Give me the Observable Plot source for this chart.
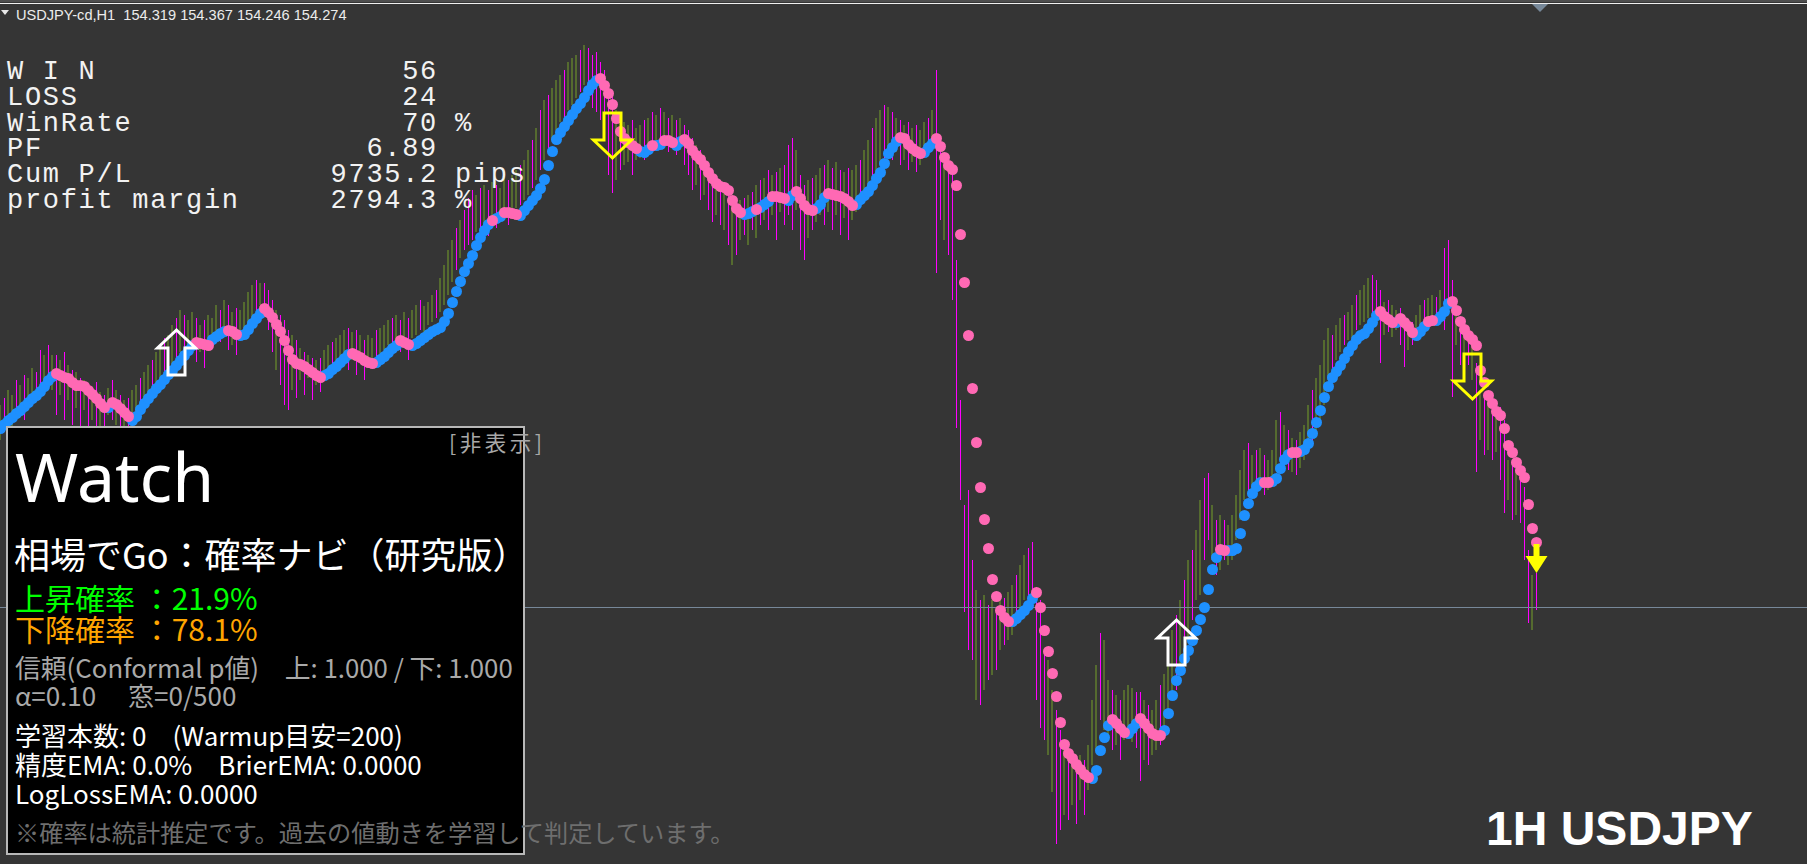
<!DOCTYPE html>
<html><head><meta charset="utf-8">
<script src="https://cdn.jsdelivr.net/npm/d3@7"></script>
<script src="https://cdn.jsdelivr.net/npm/@observablehq/plot@0.6"></script>
<style>
html,body{margin:0;padding:0;background:#353535;overflow:hidden}
#chart{position:absolute;left:0;top:0;width:1807px;height:864px}
</style></head>
<body><div id="chart"></div>
<script>
// ---------- data ----------
const symbolHeader = "USDJPY-cd,H1  154.319 154.367 154.246 154.274";
const bidPrice = 154.92;

// indicator line (one value per bar)
const dotPrice = [
156.71,156.75,156.79,156.82,156.86,156.89,156.93,156.97,157.01,157.04,
157.08,157.13,157.19,157.23,157.26,157.24,157.22,157.21,157.17,157.14,
157.14,157.13,157.09,157.05,157.01,156.96,156.92,156.92,156.97,156.95,
156.91,156.87,156.83,156.79,156.83,156.90,156.96,157.01,157.06,157.11,
157.15,157.20,157.25,157.29,157.34,157.39,157.44,157.49,157.54,157.57,
157.56,157.55,157.54,157.60,157.63,157.66,157.68,157.69,157.68,157.65,
157.64,157.65,157.70,157.76,157.81,157.86,157.91,157.87,157.82,157.75,
157.68,157.59,157.49,157.40,157.36,157.35,157.33,157.30,157.27,157.24,
157.22,157.24,157.26,157.30,157.33,157.37,157.41,157.45,157.46,157.44,
157.42,157.39,157.37,157.36,157.37,157.40,157.43,157.47,157.51,157.54,
157.59,157.57,157.55,157.54,157.56,157.59,157.62,157.65,157.68,157.70,
157.72,157.78,157.86,157.97,158.08,158.18,158.28,158.36,158.44,158.54,
158.62,158.69,158.75,158.79,158.81,158.83,158.87,158.87,158.86,158.85,
158.84,158.89,158.94,158.99,159.04,159.11,159.20,159.34,159.48,159.60,
159.67,159.73,159.79,159.85,159.91,159.96,160.02,160.09,160.15,160.19,
160.21,160.14,160.06,159.95,159.81,159.68,159.61,159.57,159.54,159.51,
159.48,159.47,159.50,159.54,159.54,159.55,159.59,159.59,159.57,159.54,
159.58,159.60,159.56,159.49,159.44,159.40,159.34,159.27,159.21,159.16,
159.13,159.12,159.09,158.99,158.91,158.87,158.85,158.86,158.88,158.90,
158.92,158.95,158.98,159.03,159.03,159.02,159.01,158.99,159.04,159.08,
159.01,158.94,158.90,158.89,158.91,158.95,159.02,159.06,159.05,159.04,
159.03,159.01,158.98,158.94,158.95,159.00,159.04,159.08,159.14,159.21,
159.27,159.36,159.46,159.52,159.58,159.62,159.61,159.55,159.51,159.48,
159.46,159.47,159.52,159.56,159.61,159.53,159.42,159.34,159.30,159.14,
158.65,158.17,157.64,157.11,156.57,156.12,155.80,155.51,155.20,155.03,
154.89,154.82,154.78,154.78,154.81,154.85,154.89,154.94,155.01,155.07,
154.92,154.69,154.48,154.26,154.03,153.77,153.55,153.46,153.41,153.35,
153.30,153.25,153.22,153.21,153.29,153.49,153.62,153.74,153.80,153.76,
153.71,153.67,153.66,153.71,153.76,153.81,153.76,153.71,153.66,153.64,
153.64,153.69,153.86,154.04,154.19,154.29,154.41,154.49,154.59,154.69,
154.80,154.92,155.10,155.30,155.42,155.50,155.49,155.49,155.49,155.51,
155.66,155.84,155.96,156.06,156.13,156.17,156.17,156.17,156.18,156.21,
156.31,156.40,156.45,156.47,156.47,156.48,156.50,156.56,156.66,156.77,
156.89,157.02,157.13,157.22,157.28,157.34,157.41,157.48,157.54,157.60,
157.64,157.66,157.71,157.77,157.84,157.88,157.83,157.80,157.77,157.77,
157.81,157.77,157.73,157.67,157.64,157.68,157.73,157.78,157.79,157.79,
157.83,157.88,157.96,157.98,157.89,157.78,157.70,157.64,157.60,157.54,
157.29,157.17,157.04,156.96,156.88,156.84,156.71,156.54,156.47,156.37,
156.29,156.22,155.95,155.71,155.57
];
// run lengths of the indicator state, alternating up / down, starting with up
const trendRuns = [14,13,1,5,16,4,4,3,6,15,7,6,6,3,20,1,2,4,20,10,3,1,2,3,2,15,3,1,3,4,2,5,3,7,11,6,3,19,6,14,5,4,3,6,14,2,9,2,5,2,20,4,1,4,3,2,4,22];

const barHigh = [
156.94,157.01,157.09,157.04,157.19,157.14,157.24,157.21,157.31,157.27,
157.49,157.44,157.54,157.44,157.44,157.39,157.47,157.34,157.29,157.27,
157.21,157.19,157.14,157.11,157.17,157.07,157.04,157.11,157.19,157.09,
157.04,156.99,157.01,157.09,157.14,157.21,157.27,157.34,157.39,157.47,
157.51,157.61,157.64,157.74,157.81,157.89,157.84,157.79,157.87,157.81,
157.74,157.79,157.84,157.81,157.94,157.89,157.99,157.94,157.87,157.91,
157.89,157.97,158.07,158.14,158.19,158.16,158.16,158.09,157.99,157.89,
157.84,157.79,157.69,157.64,157.59,157.51,157.47,157.44,157.41,157.39,
157.41,157.49,157.54,157.57,157.61,157.64,157.69,157.71,157.67,157.69,
157.64,157.59,157.64,157.61,157.69,157.71,157.74,157.79,157.81,157.84,
157.79,157.87,157.81,157.89,157.94,157.99,157.93,157.97,158.04,158.09,
158.21,158.34,158.49,158.59,158.71,158.79,158.89,159.01,159.09,159.04,
159.11,159.14,159.09,159.17,159.14,159.11,159.21,159.19,159.24,159.29,
159.34,159.39,159.49,159.59,159.71,159.89,159.99,160.04,160.11,160.19,
160.24,160.29,160.37,160.41,160.44,160.49,160.54,160.51,160.44,160.47,
160.37,160.29,160.14,160.04,159.89,159.81,159.77,159.74,159.79,159.71,
159.74,159.79,159.81,159.87,159.84,159.91,159.87,159.81,159.84,159.79,
159.81,159.74,159.69,159.61,159.54,159.49,159.44,159.34,159.27,159.24,
159.19,159.17,159.09,158.99,158.94,158.99,159.01,159.04,159.07,159.14,
159.19,159.21,159.29,159.24,159.27,159.31,159.34,159.54,159.61,159.49,
159.24,159.14,159.19,159.21,159.24,159.31,159.34,159.39,159.31,159.37,
159.29,159.27,159.31,159.29,159.34,159.39,159.49,159.59,159.71,159.81,
159.89,159.94,159.92,159.87,159.81,159.79,159.74,159.77,159.71,159.74,
159.69,159.77,159.81,159.89,160.29,159.49,159.44,159.39,159.31,158.39,
156.99,155.94,156.09,155.39,155.09,154.99,155.04,154.94,154.99,154.89,
155.04,155.01,155.07,155.14,155.24,155.34,155.44,155.51,155.57,155.12,
154.99,154.49,154.39,154.09,153.89,153.69,153.54,153.44,153.39,153.34,
153.44,153.39,153.54,153.99,154.34,154.66,154.59,154.19,154.09,154.04,
153.99,154.09,154.14,154.11,154.07,154.07,153.99,153.94,153.89,153.99,
154.14,154.25,154.44,154.69,154.84,154.99,155.19,155.39,155.49,155.69,
155.99,156.21,156.26,155.94,155.79,155.84,155.79,155.74,155.84,156.04,
156.29,156.49,156.56,156.44,156.49,156.51,156.44,156.39,156.49,156.79,
156.87,156.74,156.69,156.61,156.59,156.67,156.74,156.94,157.09,157.21,
157.34,157.59,157.71,157.64,157.74,157.81,157.84,157.87,157.94,158.04,
158.09,158.14,158.21,158.24,158.19,158.09,157.97,157.99,157.94,157.89,
157.91,157.84,157.79,157.77,157.84,157.94,157.99,158.01,158.04,158.02,
158.09,158.51,158.59,158.19,157.99,157.79,157.74,157.69,157.59,157.36,
157.09,157.04,156.99,156.94,156.89,156.92,156.79,156.39,156.34,156.29,
156.19,156.12,155.49,155.24,155.26
];
const barLow = [
156.59,156.67,156.74,156.71,156.81,156.87,156.79,156.94,156.97,157.01,
157.04,157.14,157.19,157.09,156.84,157.04,156.79,156.99,156.74,156.91,
156.69,156.89,156.69,156.79,156.71,156.69,156.64,156.84,156.79,156.74,
156.64,156.67,156.59,156.69,156.79,156.84,156.94,156.99,157.04,157.11,
157.17,157.21,157.27,157.34,157.39,157.47,157.51,157.44,157.54,157.37,
157.47,157.31,157.54,157.59,157.61,157.57,157.64,157.49,157.54,157.44,
157.59,157.67,157.71,157.79,157.87,157.94,157.89,157.69,157.47,157.29,
157.14,156.94,156.89,157.09,157.01,157.19,157.04,157.21,156.99,157.14,
157.07,157.19,157.24,157.27,157.31,157.37,157.39,157.29,157.39,157.24,
157.37,157.19,157.31,157.41,157.37,157.44,157.49,157.54,157.51,157.59,
157.47,157.57,157.39,157.61,157.64,157.69,157.64,157.74,157.77,157.81,
157.87,157.94,158.04,158.17,158.29,158.41,158.49,158.54,158.59,158.67,
158.71,158.74,158.63,158.77,158.71,158.79,158.84,158.74,158.89,158.91,
158.94,158.99,159.04,159.11,159.19,159.29,159.39,159.49,159.59,159.69,
159.77,159.81,159.89,159.94,160.01,160.07,160.14,159.99,159.91,159.87,
159.79,159.59,159.24,159.06,159.19,159.29,159.34,159.37,159.24,159.39,
159.41,159.39,159.47,159.49,159.51,159.59,159.54,159.47,159.51,159.44,
159.49,159.34,159.24,159.09,159.14,158.99,159.04,158.89,158.77,158.84,
158.74,158.69,158.54,158.34,158.44,158.59,158.64,158.54,158.69,158.61,
158.74,158.79,158.69,158.84,158.59,158.87,158.74,158.84,158.69,158.89,
158.49,158.39,158.61,158.69,158.77,158.84,158.74,158.87,158.69,158.84,
158.64,158.81,158.59,158.79,158.87,158.94,158.99,159.04,159.14,159.21,
159.34,159.41,159.49,159.39,159.47,159.34,159.39,159.29,159.37,159.27,
159.34,159.41,159.44,159.49,158.26,158.79,158.59,158.44,157.99,156.71,
155.99,154.87,154.49,154.39,153.99,153.94,154.09,154.19,154.24,154.29,
154.49,154.54,154.59,154.64,154.74,154.79,154.99,155.04,155.09,153.99,
153.71,153.59,153.44,153.07,152.55,152.69,152.84,152.79,152.94,152.75,
152.99,152.84,153.09,153.34,153.49,153.79,153.69,153.59,153.49,153.54,
153.39,153.59,153.64,153.57,153.51,153.18,153.39,153.34,153.44,153.49,
153.54,153.64,153.84,153.99,154.09,154.29,154.49,154.59,154.79,154.99,
155.04,155.39,155.59,155.39,155.24,155.29,155.39,155.34,155.39,155.59,
155.79,155.99,156.09,156.04,156.07,156.14,156.04,156.09,156.14,156.29,
156.34,156.31,156.29,156.27,156.24,156.31,156.39,156.49,156.57,156.69,
156.79,156.94,157.19,157.31,157.39,157.47,157.54,157.59,157.61,157.69,
157.74,157.77,157.81,157.86,157.89,157.36,157.64,157.67,157.62,157.69,
157.54,157.32,157.49,157.54,157.59,157.64,157.69,157.71,157.74,157.77,
157.79,157.69,157.99,157.02,157.54,157.34,157.29,157.34,157.19,156.27,
156.59,156.44,156.49,156.39,156.47,156.19,155.86,155.99,155.79,155.84,
155.76,155.39,154.76,154.69,154.89
];
// m = bearish (magenta) bar, g = bullish (olive) bar
const barDir = (
"gmggmgmggm"+"mgmgmgmgmg"+"mgmgmgmgmg"+"mgmggmggmg"+"gmggmgmggm"+
"gmgggmgmgm"+"ggggmgmmmg"+"mmmgmgmgmg"+"mggmgggmgm"+"gmggmgggmg"+
"mgmggmgggm"+"ggggmgmmmg"+"mgmgmggmgg"+"mggmgmgmgg"+"gmgggmgmmm"+
"mmmmgmggmg"+"gmgmgmgmgm"+"gmmmgmgmmg"+"mgmgmgmgmg"+"mgmgmgmmmg"+
"mmgmggmgmg"+"mgmggmggmg"+"gmgmgmgmgm"+"ggmgmmgmmm"+"mmmmgmgmgm"+
"gmggmggmmm"+"mmggmmgmgm"+"gmgggmggmg"+"mgggmmgmgg"+"mgggmgmgmg"+
"gmmgmgmggg"+"ggmgmgmggg"+"mgmgmgggmg"+"gggmggmggm"+"gggmmmgmgg"+
"mmgmggmggm"+"gmmmgmgmgm"+"gmgmgmmgmg"+"mmmgm").split("");

// signal arrows: bar index, price, kind
const signalBar   = [44, 153, 294, 368, 384];
const signalPrice = [157.47, 159.64, 154.57, 157.23, 155.41];
const signalKind  = ["buy", "sell", "buy", "sell", "sellNow"];

// statistics block
const statLabels = ["W I N", "LOSS", "WinRate", "PF", "Cum P/L", "profit margin"];
const statValues = ["56", "24", "70", "6.89", "9735.2", "2794.3"];
const statUnits  = ["", "", "%", "", "pips", "%"];

// panel texts
const panelHide = "[非表示]";
const panelTitle = "Watch";
const panelName = "相場でGo：確率ナビ（研究版）";
const probUp = "上昇確率 ：21.9%";
const probDown = "下降確率 ：78.1%";
const confLines = ["信頼(Conformal p値)　上: 1.000 / 下: 1.000", "α=0.10　 窓=0/500"];
const learnLines = ["学習本数: 0　(Warmup目安=200)", "精度EMA: 0.0%　BrierEMA: 0.0000", "LogLossEMA: 0.0000"];
const footNote = "※確率は統計推定です。過去の値動きを学習して判定しています。";
const cornerLabel = "1H USDJPY";

// ---------- build tables ----------
const trend = [];
trendRuns.forEach((n, k) => { for (let j = 0; j < n; j++) trend.push(k % 2 === 0 ? "up" : "down"); });
const dots = dotPrice.map((v, i) => ({i, v, trend: trend[i]}));
const bars = barHigh.map((h, i) => ({i, high: h, low: barLow[i], dir: barDir[i]}));
const signals = signalBar.map((b, k) => ({i: b, p: signalPrice[k], kind: signalKind[k]}));

// arrow symbols
const upOutline = {draw(c) {
  c.moveTo(0, -22.5); c.lineTo(19, -4.5); c.lineTo(8.5, -4.5); c.lineTo(8.5, 22.5);
  c.lineTo(-8.5, 22.5); c.lineTo(-8.5, -4.5); c.lineTo(-19, -4.5); c.closePath();
}};
const downOutline = {draw(c) {
  c.moveTo(0, 22.5); c.lineTo(19, 4.5); c.lineTo(8.5, 4.5); c.lineTo(8.5, -22.5);
  c.lineTo(-8.5, -22.5); c.lineTo(-8.5, 4.5); c.lineTo(-19, 4.5); c.closePath();
}};
const downFilled = {draw(c) {
  c.moveTo(-3, -14.5); c.lineTo(3, -14.5); c.lineTo(3, -2.5); c.lineTo(11, -2.5);
  c.lineTo(0, 14.5); c.lineTo(-11, -2.5); c.lineTo(-3, -2.5); c.closePath();
}};

const W = 1807, H = 864;
const svg = Plot.plot({
  width: W, height: H, margin: 0,
  style: {background: "#353535"},
  x: {domain: [0, W / 4], axis: null},
  y: {domain: [152.35, 160.99], axis: null},
  marks: [
    Plot.ruleX(bars.filter(d => d.dir === "g"), {x: "i", y1: "low", y2: "high", stroke: "#556b2f", strokeWidth: 2, dx: -0.5}),
    Plot.ruleX(bars.filter(d => d.dir === "m"), {x: "i", y1: "low", y2: "high", stroke: "#ff00ff", strokeWidth: 1}),
    Plot.ruleY([bidPrice], {stroke: "#778899", strokeWidth: 1}),
    Plot.dot(dots.filter(d => d.trend === "up"), {x: "i", y: "v", r: 5.5, fill: "#1e90ff"}),
    Plot.dot(dots.filter(d => d.trend === "down"), {x: "i", y: "v", r: 5.5, fill: "#ff69b4"}),
    Plot.dot(signals.filter(d => d.kind === "buy"), {x: "i", y: "p", symbol: upOutline, fill: "none", stroke: "white", strokeWidth: 3}),
    Plot.dot(signals.filter(d => d.kind === "sell"), {x: "i", y: "p", symbol: downOutline, fill: "none", stroke: "#ffff00", strokeWidth: 3}),
    Plot.dot(signals.filter(d => d.kind === "sellNow"), {x: "i", y: "p", symbol: downFilled, fill: "#ffff00", stroke: "none"})
  ]
});
document.getElementById("chart").appendChild(svg);

// ---------- overlays ----------
const s = d3.select(svg);
const g = s.append("g").attr("text-anchor", "start");
g.append("rect").attr("x", 0).attr("y", 0).attr("width", W).attr("height", 2).attr("fill", "#4e4e4e");
g.append("rect").attr("x", 0).attr("y", 3).attr("width", W).attr("height", 1).attr("fill", "#f0f0f0");
g.append("path").attr("d", "M1532,4L1548,4L1540,12Z").attr("fill", "#778899");
g.append("path").attr("d", "M1,10L9,10L5,15Z").attr("fill", "#e8e8e8");
g.append("text").attr("x", 16).attr("y", 20).attr("fill", "#ececec").attr("text-anchor", "start")
  .style("font", "14.6px 'Liberation Sans', sans-serif").text(symbolHeader);

const mono = "'Liberation Mono', monospace";
statLabels.forEach((lab, k) => {
  const y = 79 + k * 25.8;
  g.append("text").attr("x", 7).attr("y", y).attr("fill", "#f2f2f2").attr("text-anchor", "start")
    .style("font-family", mono).style("font-size", "27px").style("letter-spacing", "1.7px").text(lab);
  g.append("text").attr("x", 438).attr("y", y).attr("text-anchor", "end").attr("fill", "#f2f2f2")
    .style("font-family", mono).style("font-size", "27px").style("letter-spacing", "1.7px").text(statValues[k]);
  if (statUnits[k]) g.append("text").attr("x", 455).attr("y", y).attr("fill", "#f2f2f2").attr("text-anchor", "start")
    .style("font-family", mono).style("font-size", "27px").style("letter-spacing", "1.7px").text(statUnits[k]);
});

// panel
g.append("rect").attr("x", 7).attr("y", 427).attr("width", 517).attr("height", 427)
  .attr("fill", "#000").attr("stroke", "#b8b8b8").attr("stroke-width", 2);
const jp = "'Noto Sans CJK JP', sans-serif";
function t(x, y, str, size, color, fam, extra) {
  const e = g.append("text").attr("x", x).attr("y", y).attr("fill", color).attr("text-anchor", "start")
    .style("font-family", fam || jp).style("font-size", size + "px").text(str);
  if (extra) extra(e);
  return e;
}
t(449, 451, panelHide, 21.5, "#a8a8a8", jp, e => e.style("letter-spacing", "3.5px"));
t(15, 502, panelTitle, 68, "#ffffff", "'Noto Sans', sans-serif");
t(14, 569, panelName, 36, "#ffffff");
t(15, 610, probUp, 30, "#00ff00");
t(15, 641, probDown, 30, "#ffa500");
t(15, 678, confLines[0], 25.8, "#a9a9a9");
t(15, 706, confLines[1], 26, "#a9a9a9");
t(15, 746, learnLines[0], 26, "#ffffff");
t(15, 775, learnLines[1], 26, "#ffffff");
t(15, 804, learnLines[2], 26, "#ffffff");
t(15, 842, footNote, 24.2, "#6e6e6e");
t(1486, 845, cornerLabel, 48, "#ffffff", "'Liberation Sans', Arial, sans-serif", e => e.style("font-weight", "bold"));
</script>
</body></html>
